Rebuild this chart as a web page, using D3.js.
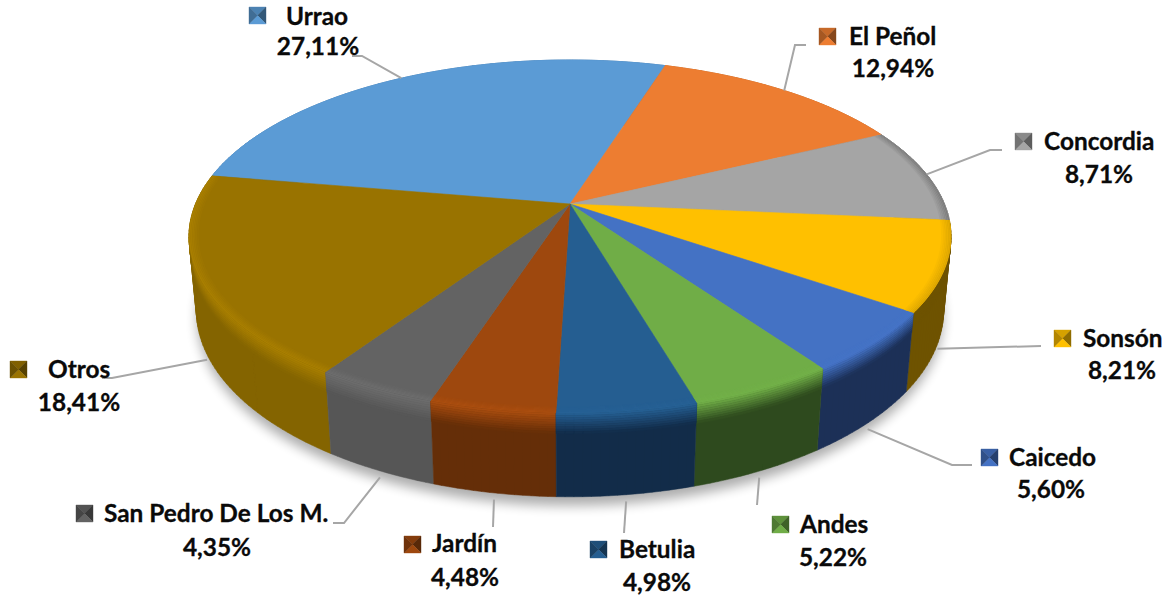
<!DOCTYPE html>
<html lang="es">
<head>
<meta charset="utf-8">
<script src="https://cdn.jsdelivr.net/npm/d3@7"></script>
<style>
  html, body { margin: 0; padding: 0; background: #fff; }
  text { font-family: Lato, "Open Sans", sans-serif; font-weight: 700; font-size: 24.4px; fill: #0a0a0a; stroke: #0a0a0a; stroke-width: 0.3px; }
</style>
</head>
<body>
<script>
var categories = ["Urrao", "El Peñol", "Concordia", "Sonsón", "Caicedo", "Andes", "Betulia", "Jardín", "San Pedro De Los M.", "Otros"];
var shares = [27.11, 12.94, 8.71, 8.21, 5.60, 5.22, 4.98, 4.48, 4.35, 18.41];

var faceColors = ["#5b9bd5", "#ed7d31", "#a5a5a5", "#ffc000", "#4472c4", "#70ad47", "#255e91", "#9e480e", "#636363", "#997300"];
var wallColors = ["#2f5d86", "#8f4a1c", "#5c5c5c", "#6e5300", "#1c3057", "#2e4a1e", "#122c49", "#652e08", "#565656", "#846400"];
// how much the rim of each slice is lightened (negative = darkened)
var rimTones = [0, 0, -0.8, -0.4, 0.03, 0.06, 0.08, 0.22, 0.28, 0.28];

// label layout: key corner, name start, percentage centre, baselines
var keyCorners = [[249, 7], [819, 28], [1015, 133], [1054, 330], [981, 449], [772, 516], [590, 541], [404, 536], [76, 505], [10, 361]];
var nameStarts = [[286, 25], [849, 45], [1044, 150], [1083, 347], [1009, 466], [800, 533], [619, 558], [432, 552], [104, 522], [48, 378]];
var pctCentres = [[318, 55], [893, 77], [1099, 183], [1122, 379], [1051, 498], [833, 566], [657, 591], [465, 586], [217, 556], [79, 411]];

// leader lines: elbow and end, the other end comes from the slice itself
var leaderBends = [[362, 56], [795, 45], [990, 150], [1041, 346], [952, 465], [757, 505], [624, 533], [493, 527], [344, 523], [112, 378]];
var leaderEnds = [[352, 56], [806, 45], [1002, 150], [1041, 346], [972, 465], [757, 505], [624, 533], [493, 527], [333, 523], [102, 378]];
var leaderOnWall = [false, false, false, true, true, true, true, true, true, true];

var width = 1174, height = 598;

// perspective disc
var cx = 570, cy = 204, rx = 374.5, ry = 170.5, tilt = 0.184, depth = 74, sink = 0.019;

function project(angle, r, h) {
    var u = r * Math.sin(angle),
        v = -r * Math.cos(angle),
        w = 1 - tilt * v + sink * h / depth;
    return [cx + rx * u / w, cy + (ry * v + h) / w];
}

var line = d3.line();

function arcPoints(a0, a1, r, h) {
    var n = Math.max(2, Math.ceil((a1 - a0) / 0.01));
    return d3.range(n + 1).map(function(i) {
        return project(a0 + (a1 - a0) * i / n, r, h);
    });
}

function bandPath(a0, a1, r0, h0, r1, h1) {
    return line(arcPoints(a0, a1, r0, h0).concat(arcPoints(a0, a1, r1, h1).reverse())) + "Z";
}

// wall strip: quads all wound the same way inside one path, a single outline
// would pinch where the wall turns away from the viewer
function stripPath(a0, a1, h0, h1) {
    var n = Math.max(2, Math.ceil((a1 - a0) / 0.02));
    return d3.range(n).map(function(i) {
        var b0 = a0 + (a1 - a0) * i / n,
            b1 = a0 + (a1 - a0) * (i + 1) / n;
        var quad = [project(b0, 1, h0), project(b1, 1, h0), project(b1, 1, h1), project(b0, 1, h1)];
        if (d3.polygonArea(quad) < 0) quad.reverse();
        return line(quad) + "Z";
    }).join("");
}

function addStrip(parent, a0, a1, h0, h1, color) {
    parent.append("path")
        .attr("d", stripPath(a0, a1, h0, h1))
        .attr("fill", color)
        .attr("stroke", color)
        .attr("stroke-width", 0.5);
}

var pie = d3.pie()
    .sort(null)
    .value(function(d) { return d; })
    .startAngle(-80.2 * Math.PI / 180)
    .endAngle((360 - 80.2) * Math.PI / 180);

var slices = pie(shares);

var svg = d3.select("body").append("svg")
    .attr("width", width)
    .attr("height", height)
    .style("display", "block");

var blur = svg.append("defs").append("filter")
    .attr("id", "soft")
    .attr("x", "-10%").attr("y", "-10%")
    .attr("width", "120%").attr("height", "120%");
blur.append("feGaussianBlur").attr("stdDeviation", 6);

// shadow under the disc
svg.append("path")
    .attr("d", line(arcPoints(0, 2 * Math.PI, 1.0, depth + 8)) + "Z")
    .attr("fill", "#000")
    .attr("opacity", 0.32)
    .attr("filter", "url(#soft)");

/*
walls, back slices first
*/
var wallOrder = d3.range(slices.length).sort(function(a, b) {
    var ma = (slices[a].startAngle + slices[a].endAngle) / 2,
        mb = (slices[b].startAngle + slices[b].endAngle) / 2;
    return Math.cos(mb) - Math.cos(ma);
});

var walls = svg.append("g");
var wallSteps = 9;
wallOrder.forEach(function(i) {
    var s = slices[i];
    addStrip(walls, s.startAngle, s.endAngle, 0, depth, wallColors[i]);
    // bevel at the top of the wall
    var lip = rimTones[i] >= 0 ? d3.color(faceColors[i]).brighter(rimTones[i]) : d3.color(wallColors[i]);
    var mix = d3.interpolateRgb(lip, wallColors[i]);
    d3.range(wallSteps).forEach(function(j) {
        addStrip(walls, s.startAngle, s.endAngle, 18 * j / wallSteps, 18 * (j + 1) / wallSteps,
            mix((j + 0.5) / wallSteps));
    });
});

/*
top faces
*/
svg.append("g").selectAll("path")
    .data(slices)
    .enter()
    .append("path")
    .attr("d", function(s) {
        return line([project(0, 0, 0)].concat(arcPoints(s.startAngle, s.endAngle, 1, 0))) + "Z";
    })
    .attr("fill", function(s, i) { return faceColors[i]; })
    .attr("stroke", function(s, i) { return faceColors[i]; })
    .attr("stroke-width", 0.6);

/*
rim on the face, fades from the face colour out to the edge
*/
var rims = svg.append("g");
var rimSteps = 6;
slices.forEach(function(s, i) {
    if (rimTones[i] === 0) return;
    var tone = rimTones[i] > 0 ? d3.color(faceColors[i]).brighter(rimTones[i]) : d3.color(faceColors[i]).darker(-rimTones[i]);
    var mix = d3.interpolateRgb(faceColors[i], tone);
    d3.range(rimSteps).forEach(function(j) {
        var r0 = 0.975 + 0.025 * j / rimSteps,
            r1 = 0.975 + 0.025 * (j + 1) / rimSteps;
        rims.append("path")
            .attr("d", bandPath(s.startAngle, s.endAngle, r0, 0, r1, 0))
            .attr("fill", mix((j + 1) / rimSteps));
    });
});

/*
leader lines
*/
svg.append("g").selectAll("path")
    .data(slices)
    .enter()
    .append("path")
    .attr("d", function(s, i) {
        var mid = (s.startAngle + s.endAngle) / 2;
        var start = leaderOnWall[i] ? project(mid, 1.0, depth + 6) : project(mid, 1.0, 0);
        return line([start, leaderBends[i], leaderEnds[i]]);
    })
    .attr("fill", "none")
    .attr("stroke", "#a6a6a6")
    .attr("stroke-width", 2);

/*
labels with their pyramid keys
*/
var pctFormat = d3.formatLocale({ decimal: ",", thousands: ".", grouping: [3], currency: ["", ""] }).format(".2f");
var keySize = 17;
var labels = svg.append("g");

slices.forEach(function(s, i) {
    var x = keyCorners[i][0], y = keyCorners[i][1], c = keySize / 2;
    var base = d3.color(faceColors[i]);
    var sides = [
        { pts: [[0, 0], [keySize, 0], [c, c]], fill: base.darker(0.5) },
        { pts: [[keySize, 0], [keySize, keySize], [c, c]], fill: base.darker(1.6) },
        { pts: [[keySize, keySize], [0, keySize], [c, c]], fill: base },
        { pts: [[0, keySize], [0, 0], [c, c]], fill: base.darker(1.0) }
    ];
    var key = labels.append("g").attr("transform", "translate(" + x + "," + y + ")");
    sides.forEach(function(t) {
        key.append("path").attr("d", line(t.pts) + "Z").attr("fill", t.fill).attr("stroke", t.fill).attr("stroke-width", 0.4);
    });
    labels.append("text")
        .attr("x", nameStarts[i][0])
        .attr("y", nameStarts[i][1])
        .text(categories[i]);
    labels.append("text")
        .attr("x", pctCentres[i][0])
        .attr("y", pctCentres[i][1])
        .attr("text-anchor", "middle")
        .text(pctFormat(shares[i]) + "%");
});
</script>
</body>
</html>
